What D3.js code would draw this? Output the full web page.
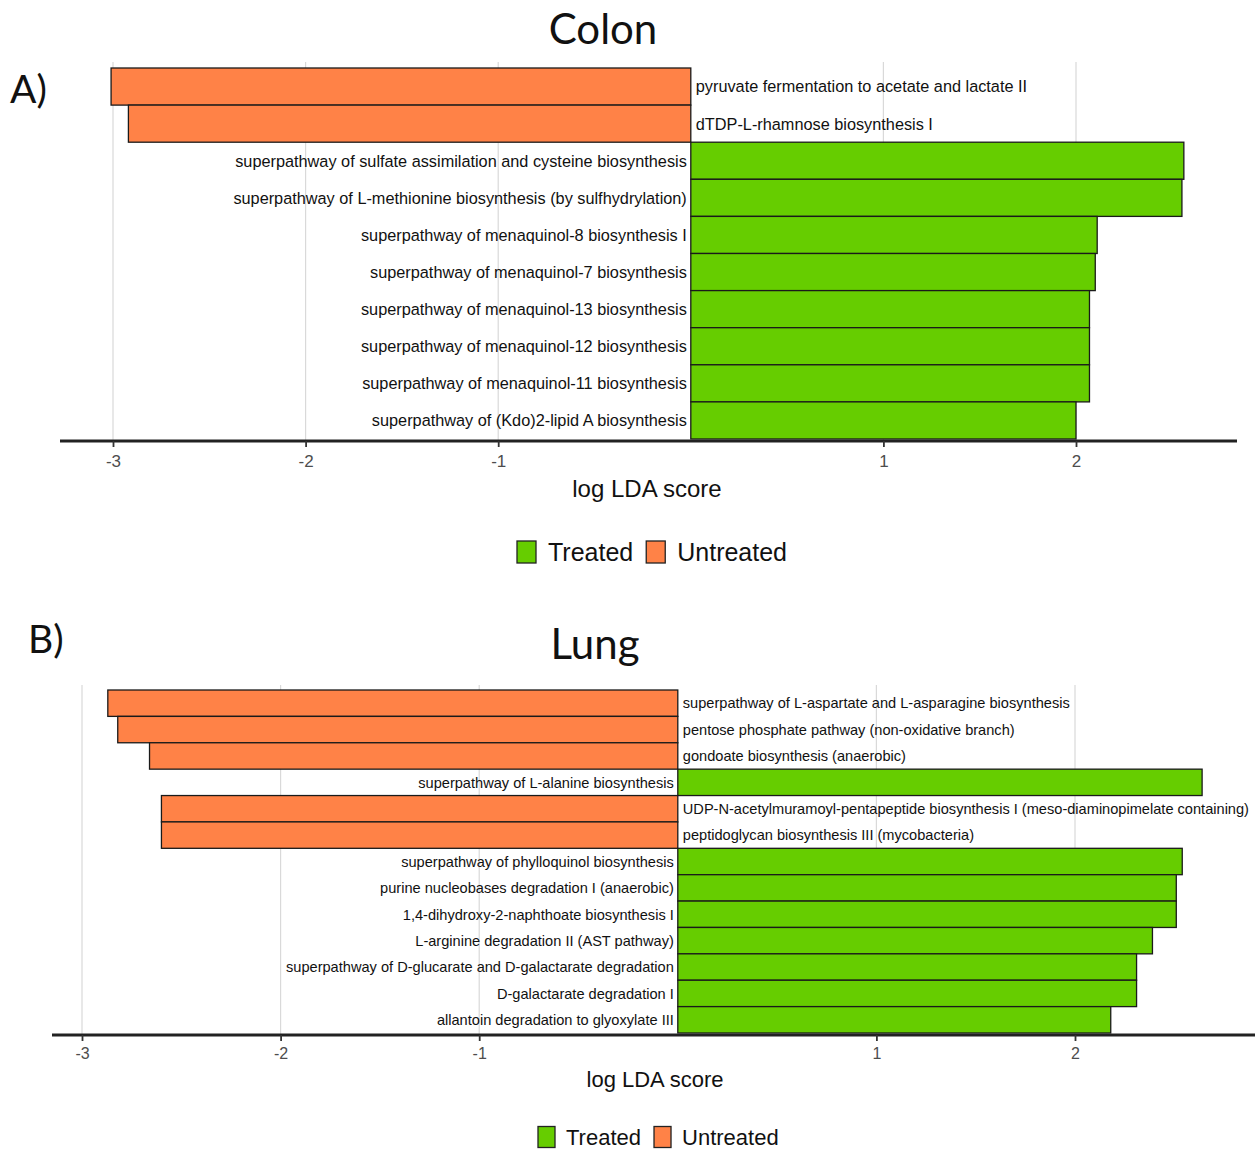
<!DOCTYPE html>
<html>
<head>
<meta charset="utf-8">
<script src="https://cdn.jsdelivr.net/npm/d3@7"></script>
<style>
  html, body { margin: 0; padding: 0; background: #fff; }
  svg { display: block; }
</style>
</head>
<body>
<svg id="chart" width="1255" height="1149"></svg>
<script>
// Colon: differentially abundant pathways (log LDA score; negative = Untreated, positive = Treated)
const colonPathways = [
  "pyruvate fermentation to acetate and lactate II",
  "dTDP-L-rhamnose biosynthesis I",
  "superpathway of sulfate assimilation and cysteine biosynthesis",
  "superpathway of L-methionine biosynthesis (by sulfhydrylation)",
  "superpathway of menaquinol-8 biosynthesis I",
  "superpathway of menaquinol-7 biosynthesis",
  "superpathway of menaquinol-13 biosynthesis",
  "superpathway of menaquinol-12 biosynthesis",
  "superpathway of menaquinol-11 biosynthesis",
  "superpathway of (Kdo)2-lipid A biosynthesis"
];
const colonScores = [-3.01, -2.92, 2.56, 2.55, 2.11, 2.10, 2.07, 2.07, 2.07, 2.00];

// Lung: differentially abundant pathways
const lungPathways = [
  "superpathway of L-aspartate and L-asparagine biosynthesis",
  "pentose phosphate pathway (non-oxidative branch)",
  "gondoate biosynthesis (anaerobic)",
  "superpathway of L-alanine biosynthesis",
  "UDP-N-acetylmuramoyl-pentapeptide biosynthesis I (meso-diaminopimelate containing)",
  "peptidoglycan biosynthesis III (mycobacteria)",
  "superpathway of phylloquinol biosynthesis",
  "purine nucleobases degradation I (anaerobic)",
  "1,4-dihydroxy-2-naphthoate biosynthesis I",
  "L-arginine degradation II (AST pathway)",
  "superpathway of D-glucarate and D-galactarate degradation",
  "D-galactarate degradation I",
  "allantoin degradation to glyoxylate III"
];
const lungScores = [-2.87, -2.82, -2.66, 2.64, -2.60, -2.60, 2.54, 2.51, 2.51, 2.39, 2.31, 2.31, 2.18];

const tickValues = [-3, -2, -1, 1, 2];
const groups = ["Treated", "Untreated"];
const groupColors = ["#66CD00", "#FF8247"];

const svg = d3.select("#chart");
const color = d3.scaleOrdinal().domain(groups).range(groupColors);
const sans = "'Liberation Sans', Arial, sans-serif";
const titleFont = "Lato, 'Open Sans', sans-serif";

function drawPanel(cfg) {
  const data = cfg.pathways.map((p, i) => ({
    pathway: p,
    score: cfg.scores[i],
    group: cfg.scores[i] < 0 ? "Untreated" : "Treated"
  }));

  const x = d3.scaleLinear().domain([-3, 2]).range(cfg.xRange);
  const y = d3.scaleBand().domain(cfg.pathways).range(cfg.yRange).padding(0);
  const g = svg.append("g");

  // panel letter and title
  g.append("text")
    .attr("x", cfg.letterPos[0]).attr("y", cfg.letterPos[1])
    .attr("font-family", titleFont)
    .attr("font-size", 39)
    .attr("fill", "#111")
    .text(cfg.letter);
  g.append("text")
    .attr("x", cfg.titlePos[0]).attr("y", cfg.titlePos[1])
    .attr("text-anchor", "middle")
    .attr("font-family", titleFont)
    .attr("font-size", 42)
    .attr("fill", "#111")
    .text(cfg.title);

  // vertical grid lines
  g.selectAll(".grid").data(tickValues).join("line")
    .attr("x1", d => x(d)).attr("x2", d => x(d))
    .attr("y1", cfg.gridTop).attr("y2", cfg.axisY)
    .attr("stroke", "#d9d9d9").attr("stroke-width", 1.2);

  // bars
  g.selectAll(".bar").data(data).join("rect")
    .attr("x", d => x(Math.min(0, d.score)))
    .attr("y", d => y(d.pathway))
    .attr("width", d => Math.abs(x(d.score) - x(0)))
    .attr("height", y.bandwidth())
    .attr("fill", d => color(d.group))
    .attr("stroke", "#1a1a1a").attr("stroke-width", 1.3);

  // pathway labels beside the zero line
  g.selectAll(".lab").data(data).join("text")
    .attr("x", d => d.score < 0 ? x(0) + 5 : x(0) - 4)
    .attr("y", d => y(d.pathway) + y.bandwidth() / 2)
    .attr("dy", "0.36em")
    .attr("text-anchor", d => d.score < 0 ? "start" : "end")
    .attr("font-family", sans)
    .attr("font-size", cfg.labelSize)
    .attr("fill", "#111")
    .text(d => d.pathway);

  // x axis
  g.append("line")
    .attr("x1", cfg.axisExtent[0]).attr("x2", cfg.axisExtent[1])
    .attr("y1", cfg.axisY).attr("y2", cfg.axisY)
    .attr("stroke", "#222").attr("stroke-width", 3);
  const axis = g.append("g")
    .attr("transform", `translate(0,${cfg.axisY})`)
    .call(d3.axisBottom(x).tickValues(tickValues).tickSize(6).tickPadding(cfg.tickPad).tickFormat(d => String(d)));
  axis.select(".domain").remove();
  axis.selectAll(".tick line").attr("stroke", "#333").attr("stroke-width", 1.8);
  axis.selectAll(".tick text")
    .attr("font-family", sans)
    .attr("font-size", cfg.tickSize)
    .attr("fill", "#4d4d4d");

  g.append("text")
    .attr("x", cfg.xTitlePos[0]).attr("y", cfg.xTitlePos[1])
    .attr("text-anchor", "middle")
    .attr("font-family", sans)
    .attr("font-size", cfg.xTitleSize)
    .attr("fill", "#111")
    .text("log LDA score");

  // legend
  const leg = g.append("g").attr("transform", `translate(${cfg.legendPos[0]},${cfg.legendPos[1]})`);
  let cx = 0;
  groups.forEach((grp) => {
    leg.append("rect")
      .attr("x", cx).attr("y", -cfg.legendBox[1] / 2)
      .attr("width", cfg.legendBox[0]).attr("height", cfg.legendBox[1])
      .attr("fill", color(grp)).attr("stroke", "#222").attr("stroke-width", 1.3);
    const t = leg.append("text")
      .attr("x", cx + cfg.legendBox[0] + cfg.legendGap).attr("y", 0)
      .attr("dy", "0.35em")
      .attr("font-family", sans)
      .attr("font-size", cfg.legendSize)
      .attr("fill", "#111")
      .text(grp);
    cx += cfg.legendBox[0] + cfg.legendGap + t.node().getComputedTextLength() + 13;
  });
}

drawPanel({
  pathways: colonPathways, scores: colonScores,
  letter: "A)", letterPos: [10, 103],
  title: "Colon", titlePos: [603, 44],
  xRange: [113, 1076], yRange: [68, 439],
  gridTop: 62, axisY: 441, axisExtent: [60, 1237],
  labelSize: 16.3, tickSize: 17, tickPad: 8,
  xTitlePos: [647, 497], xTitleSize: 24,
  legendPos: [517, 552], legendBox: [19, 22], legendGap: 12, legendSize: 25
});

drawPanel({
  pathways: lungPathways, scores: lungScores,
  letter: "B)", letterPos: [28, 653],
  title: "Lung", titlePos: [595, 659],
  xRange: [82, 1075], yRange: [690, 1033],
  gridTop: 685, axisY: 1035, axisExtent: [52, 1255],
  labelSize: 14.6, tickSize: 16, tickPad: 7,
  xTitlePos: [655, 1087], xTitleSize: 22,
  legendPos: [538, 1137], legendBox: [17, 21], legendGap: 11, legendSize: 22
});
</script>
</body>
</html>
